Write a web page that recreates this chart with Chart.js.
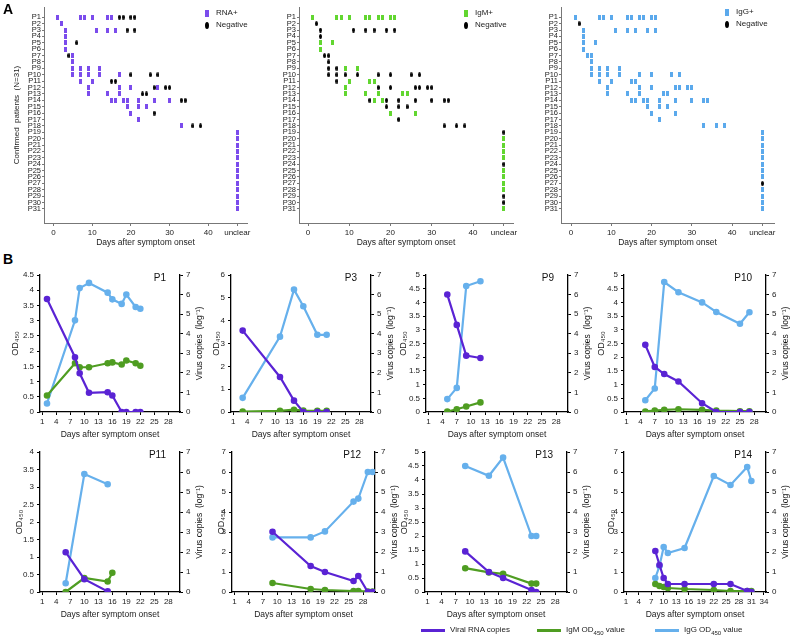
<!DOCTYPE html>
<html>
<head>
<meta charset="utf-8">
<script src="https://cdn.jsdelivr.net/npm/chart.js@4.4.1/dist/chart.umd.min.js"></script>
<style>
  body { margin: 0; background: #fff; font-family: Arial, "Liberation Sans", sans-serif; }
  #wrap { position: relative; width: 793px; height: 640px; overflow: hidden; }
  #wrap canvas { position: absolute; }
  .txt { position: absolute; font-size: 8px; color: #222; white-space: nowrap; line-height: 10px; }
  .big { position: absolute; font-size: 14px; font-weight: bold; color: #000; }
  .mk { position: absolute; }
</style>
</head>
<body>
<div id="wrap"></div>
<script>
// ---------- panel A: test results per patient ----------
const U = 'unclear';
const UNCLEAR = 47.5;
const patients = ['P1','P2','P3','P4','P5','P6','P7','P8','P9','P10','P11','P12','P13','P14','P15','P16',
  'P17','P18','P19','P20','P21','P22','P23','P24','P25','P26','P27','P28','P29','P30','P31'];
const daysTicksA = [0, 10, 20, 30, 40, UNCLEAR];

const rnaPos = [[1,7,8,10,14,15],[2],[3,11,14,16],[3],[3],[3],[5],[5],[5,7,9,12],[5,7,9,12,17],
  [7,10],[9,17,20,27],[9,14,17],[15,16,18,19,22,26,30],[19,22,24],[20],[22],[33],
  [U],[U],[U],[U],[U],[U],[U],[U],[U],[U],[U],[U],[U]];
const rnaNeg = [[17,18,20,21],[],[19,21],[],[6],[],[4],[],[],[20,25,27],
  [15,16],[26,29,30],[23,24],[33,34],[],[26],[],[36,38],
  [],[],[],[],[],[],[],[],[],[],[],[],[]];
const igmPos = [[1,7,8,10,14,15,17,18,20,21],[],[],[],[3,6],[3],[],[],[9,12],[],
  [10,15,16],[9],[9,14,17,23,24],[16,18],[],[20,26],[],[],
  [],[U],[U],[U],[U],[],[U],[U],[U],[U],[],[],[U]];
const igmNeg = [[],[2],[3,11,14,16,19,21],[3],[],[],[4,5],[5],[5,7],[5,7,9,12,17,20,25,27],
  [7],[17,20,26,27,29,30],[],[15,19,22,26,30,33,34],[19,22,24],[],[22],[33,36,38],
  [U],[],[],[],[],[U],[],[],[],[],[U],[U],[]];
const iggPos = [[1,7,8,10,14,15,17,18,20,21],[],[3,11,14,16,19,21],[3],[3,6],[3],[4,5],[5],[5,7,9,12],[5,7,9,12,17,20,25,27],
  [7,10,15,16],[9,17,20,26,27,29,30],[9,14,17,23,24],[15,16,18,19,22,26,30,33,34],[19,22,24],[20,26],[22],[33,36,38],
  [U],[U],[U],[U],[U],[U],[U],[U],[],[U],[U],[U],[U]];
const iggNeg = [[],[2],[],[],[],[],[],[],[],[],
  [],[],[],[],[],[],[],[],
  [],[],[],[],[],[],[],[],[U],[],[],[],[]];

// ---------- panel B: kinetics of single patients ----------
const dayTicks30 = [1,4,7,10,13,16,19,22,25,28];
const dayTicks34 = [1,4,7,10,13,16,19,22,25,28,31,34];

const p1Days = [2,8,9,11,15,16,18,19,21,22];
const p1Rna  = [5.77,2.8,1.98,0.98,1.01,0.84,0,0,0,0];
const p1IgM  = [0.54,1.6,1.47,1.47,1.6,1.63,1.56,1.69,1.6,1.52];
const p1IgG  = [0.28,3.01,4.07,4.24,3.92,3.7,3.55,3.86,3.45,3.39];

const p3Days = [3,11,14,16,19,21];
const p3Rna  = [4.16,1.79,0.58,0,0,0];
const p3IgM  = [0.02,0.05,0.1,0.06,0.05,0.05];
const p3IgG  = [0.62,3.3,5.36,4.63,3.38,3.38];

const p9Days = [5,7,9,12];
const p9Rna  = [6.0,4.45,2.88,2.76];
const p9IgM  = [0.02,0.1,0.2,0.35];
const p9IgG  = [0.47,0.88,4.6,4.77];

const p10Days = [5,7,9,12,17,20,25,27];
const p10Rna  = [3.43,2.3,1.94,1.56,0.45,0,0,0];
const p10IgM  = [0.02,0.05,0.08,0.1,0.08,0.05,0.03,0.03];
const p10IgG  = [0.43,0.86,4.74,4.37,4.0,3.65,3.22,3.64];

const p11Days = [6,10,15,16];
const p11Rna  = [1.99,0.64,0.03,null];
const p11IgM  = [0.0,0.4,0.3,0.55];
const p11IgG  = [0.25,3.37,3.08,null];

const p12Days = [9,17,20,26,27,29,30];
const p12Rna  = [3.01,1.3,1.0,0.55,0.8,0,0];
const p12IgM  = [0.45,0.15,0.1,0.05,0.05,0.02,0.02];
const p12IgG  = [2.73,2.73,3.03,4.52,4.67,6.0,6.0];

const p13Days = [9,14,17,23,24];
const p13Rna  = [2.03,1.0,0.7,0.1,0];
const p13IgM  = [0.85,0.7,0.65,0.3,0.3];
const p13IgG  = [4.5,4.15,4.8,2.0,2.0];

const p14Days = [8,9,10,11,15,22,26,30,31];
const p14Rna  = [2.05,1.35,0.7,0.4,0.4,0.4,0.4,0.05,0];
const p14IgM  = [0.4,0.3,0.25,0.2,0.15,0.1,0.05,0.05,0.05];
const p14IgG  = [0.7,1.3,2.25,1.95,2.2,5.8,5.35,6.25,5.55];

const PURPLE_A = '#7b4cec', GREEN_A = '#62d630', BLUE_A = '#5ba9ec';
const PURPLE = '#5a23d4', GREEN = '#4f9d22', BLUE = '#66b0ec';

const wrap = document.getElementById('wrap');
Chart.defaults.font.family = 'Arial, "Liberation Sans", sans-serif';
Chart.defaults.color = '#222';

function addCanvas(left, top, w, h) {
  const c = document.createElement('canvas');
  c.width = w; c.height = h;
  c.style.left = left + 'px'; c.style.top = top + 'px';
  wrap.appendChild(c);
  return c;
}
function addText(txt, x, y, cls) {
  const d = document.createElement('div');
  d.className = cls || 'txt';
  d.style.left = x + 'px'; d.style.top = y + 'px';
  d.innerHTML = txt;
  wrap.appendChild(d);
  return d;
}
function mark(color, shape, w, h) {
  const c = document.createElement('canvas');
  c.width = w; c.height = h;
  const g = c.getContext('2d');
  g.fillStyle = color;
  if (shape === 'rect') g.fillRect(0, 0, w, h);
  else { g.beginPath(); g.ellipse(w / 2, h / 2, w / 2, h / 2, 0, 0, Math.PI * 2); g.fill(); }
  return c;
}
function points(list) {
  const out = [];
  list.forEach((days, i) => days.forEach(d => out.push({ x: d === U ? UNCLEAR : d, y: i + 1 })));
  return out;
}
const num = v => String(Math.round(v * 10) / 10);

// ---------- panel A ----------
function dotChart(o) {
  const W = o.axL - o.canvasL + (o.axR - o.axL) + 8;
  const cv = addCanvas(o.canvasL, 0, W, 250);
  new Chart(cv, {
    type: 'scatter',
    data: {
      datasets: [
        { data: points(o.pos), pointStyle: mark(o.color, 'rect', 3, 5), pointRadius: 3 },
        { data: points(o.neg), pointStyle: mark('#000', 'ellipse', 3, 5), pointRadius: 3 }
      ]
    },
    options: {
      responsive: false, animation: false,
      layout: { padding: { top: 7, right: 8, left: 0, bottom: 0 } },
      plugins: { legend: { display: false }, tooltip: { enabled: false } },
      scales: {
        x: {
          type: 'linear', min: o.min, max: o.max,
          afterBuildTicks: s => { s.ticks = daysTicksA.map(v => ({ value: v })); },
          afterFit: s => { s.height = 27; },
          ticks: { font: { size: 8 }, padding: 2, maxRotation: 0, autoSkip: false,
                   callback: v => v === UNCLEAR ? 'unclear' : v },
          grid: { drawOnChartArea: false, tickLength: 3, color: '#777' },
          border: { color: '#777' },
          title: { display: true, text: 'Days after symptom onset', font: { size: 8.5 }, padding: { top: 3, bottom: 2 } }
        },
        y: {
          type: 'linear', reverse: true, min: -0.6, max: 33.2,
          afterBuildTicks: s => { s.ticks = patients.map((p, i) => ({ value: i + 1 })); },
          afterFit: s => { s.width = o.axL - o.canvasL; },
          ticks: { font: { size: 7.5 }, padding: 1, autoSkip: false, callback: v => patients[v - 1] },
          grid: { drawOnChartArea: false, tickLength: 2, color: '#777' },
          border: { color: '#777' },
          title: { display: !!o.yTitle, text: o.yTitle, font: { size: 8 }, padding: { top: 12, bottom: 0 } }
        }
      }
    }
  });
  // inside legend
  const r = document.createElement('canvas');
  r.className = 'mk'; r.width = 4; r.height = 7;
  r.getContext('2d').drawImage(mark(o.color, 'rect', 4, 7), 0, 0);
  r.style.left = o.legX + 'px'; r.style.top = (o.legY - 3) + 'px';
  wrap.appendChild(r);
  const e = document.createElement('canvas');
  e.className = 'mk'; e.width = 4; e.height = 7;
  e.getContext('2d').drawImage(mark('#000', 'ellipse', 4, 7), 0, 0);
  e.style.left = o.legX + 'px'; e.style.top = (o.legY + 9) + 'px';
  wrap.appendChild(e);
  addText(o.posLabel, o.legX + 11, o.legY - 5);
  addText('Negative', o.legX + 11, o.legY + 7);
}

dotChart({ canvasL: 0, axL: 44, axR: 247, min: -2.45, max: 50, pos: rnaPos, neg: rnaNeg, color: PURPLE_A,
  yTitle: 'Confirmed  patients  (N=31)', posLabel: 'RNA+', legX: 205, legY: 13 });
dotChart({ canvasL: 270, axL: 299, axR: 513, min: -2.2, max: 49.7, pos: igmPos, neg: igmNeg, color: GREEN_A,
  yTitle: '', posLabel: 'IgM+', legX: 464, legY: 13 });
dotChart({ canvasL: 532, axL: 561, axR: 774, min: -2.5, max: 50.4, pos: iggPos, neg: iggNeg, color: BLUE_A,
  yTitle: '', posLabel: 'IgG+', legX: 725, legY: 12 });

addText('A', 3, 1, 'big');
addText('B', 3, 251, 'big');

// ---------- panel B ----------
const rows = [{ yTop: 275, y0: 412 }, { yTop: 452, y0: 592 }];
const bCharts = [
  { name: 'P1',  days: p1Days,  rna: p1Rna,  igm: p1IgM,  igg: p1IgG,  odMax: 4.5, odStep: 0.5, row: 0, axL: 40,  axR: 180, wl: 34 },
  { name: 'P3',  days: p3Days,  rna: p3Rna,  igm: p3IgM,  igg: p3IgG,  odMax: 6,   odStep: 1,   row: 0, axL: 231, axR: 371, wl: 24 },
  { name: 'P9',  days: p9Days,  rna: p9Rna,  igm: p9IgM,  igg: p9IgG,  odMax: 5,   odStep: 0.5, row: 0, axL: 426, axR: 568, wl: 32 },
  { name: 'P10', days: p10Days, rna: p10Rna, igm: p10IgM, igg: p10IgG, odMax: 5,   odStep: 0.5, row: 0, axL: 624, axR: 766, wl: 32 },
  { name: 'P11', days: p11Days, rna: p11Rna, igm: p11IgM, igg: p11IgG, odMax: 4,   odStep: 0.5, row: 1, axL: 40,  axR: 180, wl: 30 },
  { name: 'P12', days: p12Days, rna: p12Rna, igm: p12IgM, igg: p12IgG, odMax: 7,   odStep: 1,   row: 1, axL: 232, axR: 375, wl: 20 },
  { name: 'P13', days: p13Days, rna: p13Rna, igm: p13IgM, igg: p13IgG, odMax: 5,   odStep: 0.5, row: 1, axL: 425, axR: 567, wl: 30 },
  { name: 'P14', days: p14Days, rna: p14Rna, igm: p14IgM, igg: p14IgG, odMax: 7,   odStep: 1,   row: 1, axL: 624, axR: 766, wl: 22, wide: true }
];

function series(days, vals) {
  return days.map((d, i) => ({ x: d, y: vals[i] })).filter(p => p.y !== null);
}

bCharts.forEach(c => {
  const row = rows[c.row];
  const padTop = 14, xH = 30, wr = 27;
  const W = c.wl + (c.axR - c.axL) + wr;
  const H = padTop + (row.y0 - row.yTop) + xH;
  const cv = addCanvas(c.axL - c.wl, row.yTop - padTop, W, H);
  const lineDs = (label, data, color, axis, order) => ({
    label, data, yAxisID: axis, order,
    borderColor: color, backgroundColor: color, borderWidth: 2.2,
    pointRadius: 2.2, pointHoverRadius: 2.2, tension: 0, spanGaps: true
  });
  const labels = {
    id: 'labels',
    afterDraw(ch) {
      const a = ch.chartArea, g = ch.ctx;
      g.save();
      g.fillStyle = '#111';
      g.font = '10px Arial, "Liberation Sans", sans-serif';
      g.textAlign = 'right'; g.textBaseline = 'middle';
      g.fillText(c.name, a.right - 14, a.top + 3);
      g.font = '8.5px Arial, "Liberation Sans", sans-serif';
      g.textAlign = 'center';
      g.translate(a.right + 20, (a.top + a.bottom) / 2);
      g.rotate(-Math.PI / 2);
      g.fillText('Virus copies  (log\u207B\u00B9)', 0, 0);
      g.restore();
    }
  };
  new Chart(cv, {
    type: 'line',
    data: {
      datasets: [
        lineDs('IgG OD450 value', series(c.days, c.igg), BLUE, 'y', 3),
        lineDs('IgM OD450 value', series(c.days, c.igm), GREEN, 'y', 2),
        lineDs('Viral RNA copies', series(c.days, c.rna), PURPLE, 'y1', 1)
      ]
    },
    options: {
      responsive: false, animation: false,
      layout: { padding: { top: padTop, left: 0, right: 0, bottom: 0 } },
      plugins: { legend: { display: false }, tooltip: { enabled: false } },
      scales: {
        x: {
          type: 'linear', min: 0.5, max: c.wide ? 34.5 : 30.5,
          afterBuildTicks: s => { s.ticks = (c.wide ? dayTicks34 : dayTicks30).map(v => ({ value: v })); },
          afterFit: s => { s.height = xH; },
          ticks: { font: { size: 8 }, padding: 2, maxRotation: 0, autoSkip: false },
          grid: { drawOnChartArea: false, tickLength: 3, color: '#000', lineWidth: 1 },
          border: { color: '#000', width: 1.3 },
          title: { display: true, text: 'Days after symptom onset', font: { size: 8.5 }, padding: { top: 1, bottom: 2 } }
        },
        y: {
          position: 'left', min: 0, max: c.odMax,
          ticks: { stepSize: c.odStep, font: { size: 8 }, padding: 3, callback: num },
          afterFit: s => { s.width = c.wl; },
          grid: { drawOnChartArea: false, tickLength: 3, color: '#000' },
          border: { color: '#000', width: 1.3 },
          title: { display: true, text: 'OD\u2084\u2085\u2080', font: { size: 9 }, padding: { top: 4, bottom: 2 } }
        },
        y1: {
          position: 'right', min: 0, max: 7,
          ticks: { stepSize: 1, font: { size: 8 }, padding: 3, callback: num },
          afterFit: s => { s.width = wr; },
          grid: { drawOnChartArea: false, tickLength: 3, color: '#000' },
          border: { color: '#000', width: 1.3 }
        }
      }
    },
    plugins: [labels]
  });
});

// bottom legend
function legendItem(color, text, x) {
  const l = document.createElement('div');
  l.className = 'mk';
  l.style.cssText = 'left:' + x + 'px;top:629px;width:24px;height:2.5px;background:' + color;
  wrap.appendChild(l);
  addText(text, x + 29, 625);
}
legendItem(PURPLE, 'Viral RNA copies', 421);
legendItem(GREEN, 'IgM OD<sub style="font-size:6px">450</sub> value', 537);
legendItem(BLUE, 'IgG OD<sub style="font-size:6px">450</sub> value', 655);
</script>
</body>
</html>
